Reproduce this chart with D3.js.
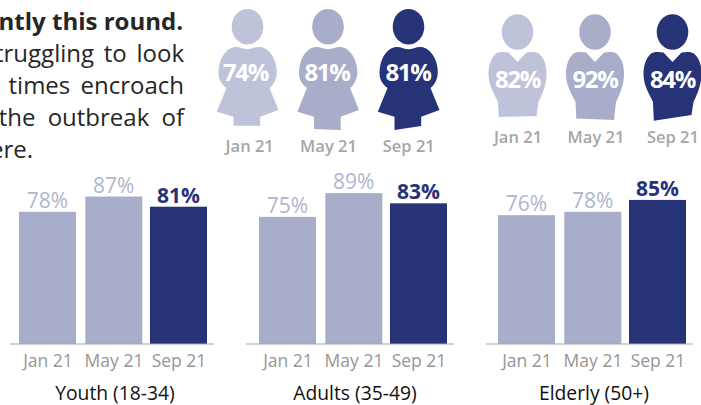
<!DOCTYPE html>
<html>
<head>
<meta charset="utf-8">
<script src="https://cdn.jsdelivr.net/npm/d3@7"></script>
<style>
  html, body { margin: 0; padding: 0; background: #fff; overflow: hidden; }
  text { font-family: "Open Sans", sans-serif; }
</style>
</head>
<body>
<svg id="chart" width="701" height="405"></svg>
<script>
var months = ["Jan 21", "May 21", "Sep 21"];
var groups = ["Youth (18-34)", "Adults (35-49)", "Elderly (50+)"];
var youth = [78, 87, 81];
var adults = [75, 89, 83];
var elderly = [76, 78, 85];
var women = [74, 81, 81];
var men = [82, 92, 84];
var noteLines = ["ntly this round.", "truggling to look", "times encroach", "the outbreak of", "ere."];

var LIGHT = "#bec3d9", MID = "#a8adc9", DARK = "#273377", GREY = "#a6a6a6";

var svg = d3.select("#chart");

// note text, cut off at the left edge like the source
var noteY = d3.scalePoint().domain(noteLines).range([30, 158]);
var noteSpacing = [0, 3.5, 4, 6, 0];
var noteRight = [183, 184, 184, 184, 33];
svg.append("g").selectAll("text")
    .data(noteLines)
    .enter().append("text")
    .attr("x", function (d, i) { return noteRight[i]; })
    .attr("y", function (d) { return noteY(d); })
    .attr("text-anchor", "end")
    .attr("font-size", 24)
    .attr("font-weight", function (d, i) { return i === 0 ? 700 : 400; })
    .attr("word-spacing", function (d, i) { return noteSpacing[i]; })
    .attr("fill", "#262626")
    .text(function (d) { return d; });

// icons: the cut-outs at the feet lean a little differently on each figure
var womanFeet = [[125.7, 125.7], [129, 130], [130, 126]];
var manFeet = [[117, 116], [118.5, 120], [120.7, 115]];

function womanBody(feet) {
    return "M0,49.3C-4,49.3 -9,46 -14,47.3C-24,49.5 -29,62 -29,73C-29,80 -26,84 -21,88"
        + "L-30.7,111.7L-14,116.7L-14," + feet[0] + "L12.7," + feet[1] + "L12.7,116.7L31,110L22,88"
        + "C27,84 29.3,78 29.3,71.7C29.3,62 24,49.5 14.3,47.3C9,46 4,49.3 0,49.3Z";
}
function manBody(feet) {
    return "M0,62L-9,52.5C-14,52 -19,51.5 -22,54C-27,59 -29,66 -29,74C-29,86 -23,94 -19.5,102"
        + "L-18.7," + feet[0] + "L19," + feet[1] + "L21,102C25,94 29,84 29,74C29,65 27,59 22,54C19,51.5 14,52 9,52.5Z";
}

function drawFigure(value, i, body, headY, labelY, tickY, cx, labelX, tickX) {
    var colour = [LIGHT, MID, DARK][i];
    var g = svg.append("g");
    g.append("ellipse")
        .attr("cx", cx)
        .attr("cy", headY)
        .attr("rx", 15.8)
        .attr("ry", 17.8)
        .attr("fill", colour);
    g.append("path")
        .attr("transform", "translate(" + cx + ",0)")
        .attr("d", body)
        .attr("fill", colour);
    g.append("text")
        .attr("x", labelX)
        .attr("y", labelY)
        .attr("text-anchor", "middle")
        .attr("font-size", 24)
        .attr("letter-spacing", -1.3)
        .attr("font-weight", 700)
        .attr("fill", "#fff")
        .text(value + "%");
    g.append("text")
        .attr("x", tickX)
        .attr("y", tickY)
        .attr("text-anchor", "middle")
        .attr("font-size", 16.5)
        .attr("font-weight", 600)
        .attr("fill", GREY)
        .text(months[i]);
}

var womanX = d3.scaleOrdinal().domain(months).range([247.5, 328, 408.5]);
var womanValueX = d3.scaleOrdinal().domain(months).range([245.5, 327, 408]);
var womanTickX = d3.scaleOrdinal().domain(months).range([249.7, 328.5, 408.8]);
var manX = d3.scaleOrdinal().domain(months).range([517.5, 595, 672.5]);
var manTickX = d3.scaleOrdinal().domain(months).range([518, 596, 673]);
women.forEach(function (v, i) {
    var m = months[i];
    drawFigure(v, i, womanBody(womanFeet[i]), 26.7, 81, 151.5, womanX(m), womanValueX(m), womanTickX(m));
});
men.forEach(function (v, i) {
    var m = months[i];
    drawFigure(v, i, manBody(manFeet[i]), 32, 88, 143, manX(m), manX(m), manTickX(m));
});

// bar panels
var y = d3.scaleLinear().domain([0, 100]).range([344, 174.5]);
var barX = d3.scaleOrdinal().domain(months).range([0, 66.3, 131]);
var tickX = d3.scaleOrdinal().domain(months).range([28.5, 94.5, 159.5]);
var panelX = d3.scaleOrdinal().domain(groups).range([19, 259, 498]);
var axisStart = [-9, -13, -12];
var series = [youth, adults, elderly];
var barW = 57;

groups.forEach(function (name, k) {
    var g = svg.append("g").attr("transform", "translate(" + panelX(name) + ",0)");
    var rows = months.map(function (m, i) { return { month: m, value: series[k][i] }; });

    g.selectAll("rect")
        .data(rows)
        .enter().append("rect")
        .attr("x", function (d) { return barX(d.month); })
        .attr("y", function (d) { return y(d.value); })
        .attr("width", barW)
        .attr("height", function (d) { return y(0) - y(d.value); })
        .attr("fill", function (d, i) { return i === 2 ? DARK : MID; });

    g.selectAll(".val")
        .data(rows)
        .enter().append("text")
        .attr("class", "val")
        .attr("x", function (d) { return barX(d.month) + barW / 2; })
        .attr("y", function (d) { return y(d.value) - 4; })
        .attr("text-anchor", "middle")
        .attr("font-size", 21)
        .attr("font-weight", function (d, i) { return i === 2 ? 700 : 400; })
        .attr("fill", function (d, i) { return i === 2 ? DARK : "#b0b5cf"; })
        .text(function (d) { return d.value + "%"; });

    var axis = g.append("g")
        .attr("transform", "translate(0,344)")
        .call(d3.axisBottom(tickX).tickSize(0).tickPadding(11));
    axis.select(".domain").attr("d", "M" + axisStart[k] + ",0H195").attr("stroke", "#a6a6a6").attr("stroke-width", 1.2);
    axis.selectAll("text")
        .attr("font-family", "'Open Sans', sans-serif")
        .attr("font-size", 17.5)
        .attr("font-weight", 400)
        .attr("fill", "#969696");

    g.append("text")
        .attr("x", 96)
        .attr("y", 400)
        .attr("text-anchor", "middle")
        .attr("font-size", 19.3)
        .attr("fill", "#111")
        .text(name);
});
</script>
</body>
</html>
